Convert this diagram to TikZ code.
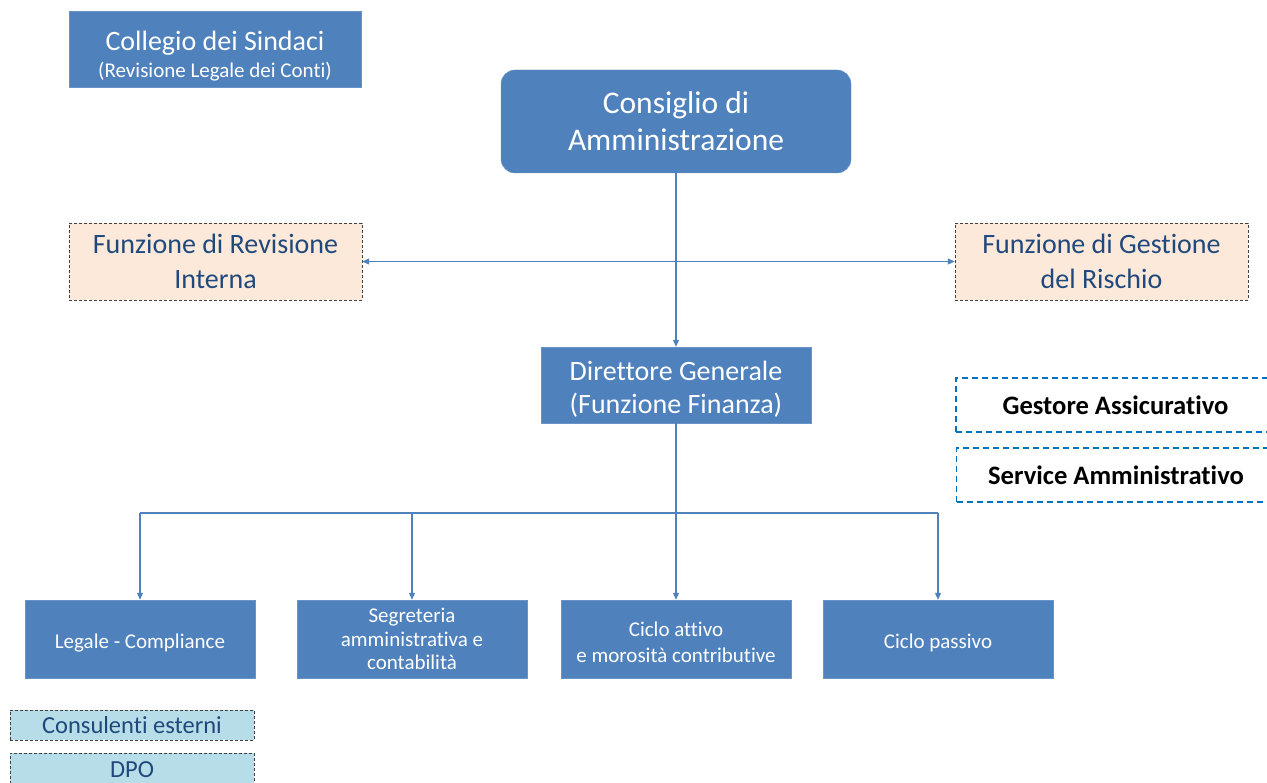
\documentclass[tikz,border=0pt]{standalone}
\usepackage{fontspec}
\setmainfont{Carlito}[Ligatures=CommonOff]
\usetikzlibrary{arrows.meta}
\definecolor{orgblue}{RGB}{79,129,189}
\definecolor{orgdark}{RGB}{31,73,125}
\definecolor{orgpeach}{RGB}{253,233,217}
\definecolor{orglight}{RGB}{183,222,232}
\definecolor{orgdash}{RGB}{0,112,192}
\newcommand{\dropstrut}[1]{\rule{0pt}{#1}}

\begin{document}
\begin{tikzpicture}[
    x=1pt, y=-1pt,
    bluebox/.style={rectangle, fill=orgblue, draw=orgblue!85!white, text=white,
                    align=center, inner sep=0pt},
    staffbox/.style={rectangle, fill=orgpeach, draw=black!75, densely dashed,
                     text=orgdark, align=center, inner sep=0pt,
                     minimum width=293pt, minimum height=77pt,
                     font=\fontsize{28}{35}\selectfont},
    extbox/.style={rectangle, draw=orgdash, dashed, line width=1.2pt,
                   dash pattern=on 6pt off 4pt, align=center, inner sep=0pt,
                   minimum width=319pt, minimum height=54pt,
                   font=\bfseries\fontsize{26.6}{30}\selectfont},
    unitbox/.style={bluebox, minimum width=230pt, minimum height=78pt,
                    font=\fontsize{21}{23.5}\selectfont},
    advbox/.style={rectangle, fill=orglight, draw=black!75, densely dashed,
                   text=orgdark, inner sep=0pt, minimum width=244pt,
                   font=\fontsize{24.5}{28}\selectfont},
    link/.style={orgblue, line width=1.1pt},
    arrow/.style={link, -{Triangle[length=7pt, width=6pt]}}
]
\useasboundingbox (0,0) rectangle (1267,783);

% top of the chart
\node[bluebox, minimum width=292pt, minimum height=76pt,
      font=\fontsize{21}{30}\selectfont] (collegio) at (215,49)
    {{\fontsize{28}{30}\selectfont\dropstrut{34pt}Collegio dei Sindaci}\\[-3pt]
     (Revisione Legale dei Conti)};
\node[bluebox, rounded corners=14pt, minimum width=350pt, minimum height=103pt,
      font=\fontsize{31.5}{37}\selectfont] (cda) at (676,121.5)
    {Consiglio di\\Amministrazione};

% control functions
\node[staffbox] (revisione) at (215.5,261.5) {Funzione di Revisione\\Interna};
\node[staffbox] (rischio) at (1101.5,261.5) {Funzione di Gestione\\del Rischio};

\node[bluebox, minimum width=270pt, minimum height=76pt,
      font=\fontsize{28}{33}\selectfont] (dg) at (676,385)
    {\dropstrut{27pt}Direttore Generale\\(Funzione Finanza)};

% outsourced services
\node[extbox] (gestore) at (1115.5,405) {Gestore Assicurativo};
\node[extbox] (service) at (1116,475) {Service Amministrativo};

% units
\node[unitbox] (legale) at (140,639) {\dropstrut{23pt}Legale - Compliance};
\node[unitbox] (segreteria) at (412,639) {Segreteria\\amministrativa e\\contabilità};
\node[unitbox] (attivo) at (676,639) {\dropstrut{21pt}Ciclo attivo\\[3pt]e morosità contributive};
\node[unitbox] (passivo) at (938,639) {\dropstrut{23pt}Ciclo passivo};

% advisors
\node[advbox, minimum height=30pt] (consulenti) at (132,725) {Consulenti esterni};
\node[advbox, minimum height=34pt] (dpo) at (132,770) {DPO};

\draw[arrow] (cda.south) -- (dg.north);
\draw[link, {Triangle[length=7pt, width=6pt]}-{Triangle[length=7pt, width=6pt]}]
    (revisione.east) -- (rischio.west);

\coordinate (bus) at (676,513);
\draw[link] (dg.south) -- (bus);
\draw[link] (legale.north |- bus) -- (passivo.north |- bus);
\foreach \u in {legale, segreteria, attivo, passivo}
    \draw[arrow] (\u.north |- bus) -- (\u.north);
\end{tikzpicture}
\end{document}
